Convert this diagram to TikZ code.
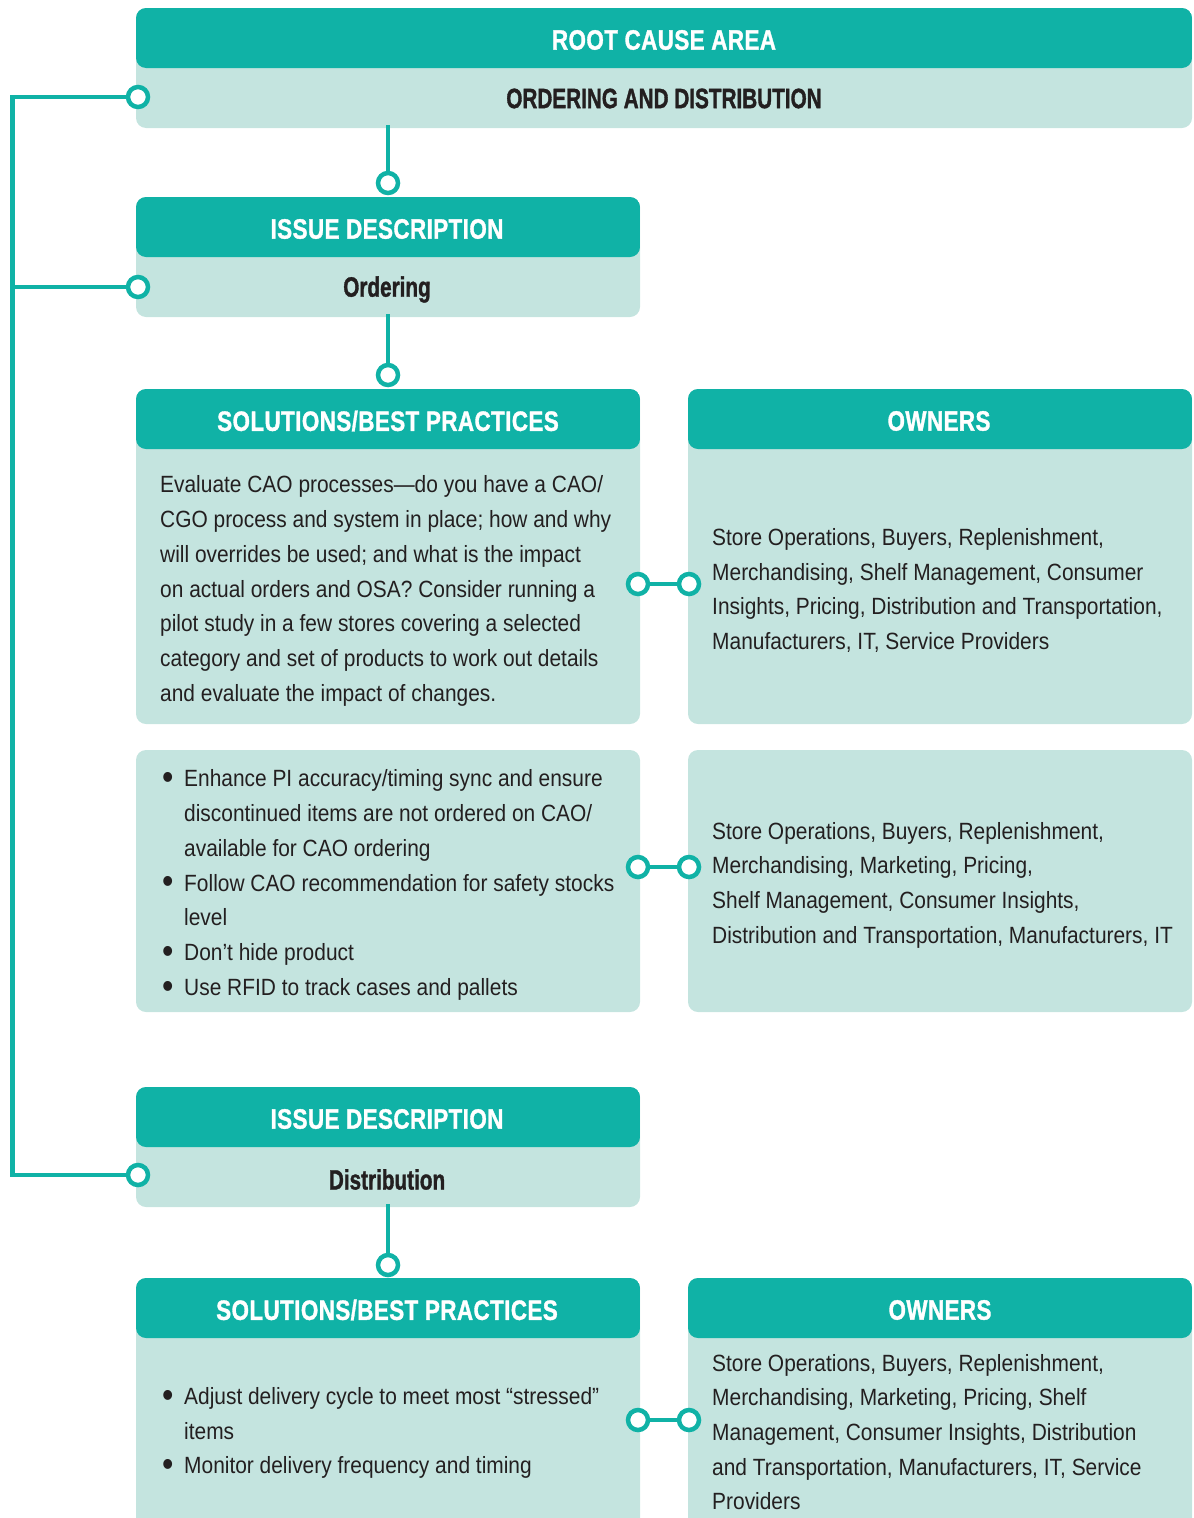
\documentclass[tikz,border=0pt]{standalone}
\usepackage{fontspec}
\setmainfont{Liberation Sans}
\newfontfamily\hdfont[FakeStretch=0.80,FakeBold=1.2,LetterSpace=1.5]{Liberation Sans}
\newfontfamily\lbfont[FakeStretch=0.74,FakeBold=1.2]{Liberation Sans}
\newfontfamily\bdfont[FakeStretch=0.89]{Liberation Sans}
\definecolor{tealdark}{HTML}{10B2A6}
\definecolor{teallight}{HTML}{C4E4DF}
\definecolor{inkdark}{HTML}{231F20}
\newcommand{\bl}{\makebox[22pt][l]{\raisebox{-0.12em}{\scalebox{1.55}{•}}}}
\newcommand{\ind}{\hspace*{22pt}}
\tikzset{
  x=1pt, y=-1pt,
  panel/.style={fill=teallight, rounded corners=10pt, inner sep=0pt, draw=none},
  headed/.style={panel, path picture={\fill[tealdark] (path picture bounding box.north west) rectangle ([yshift=-60pt]path picture bounding box.north east);}},
  hdtext/.style={text=white, font=\hdfont\bfseries\fontsize{28}{30}\selectfont, inner sep=0pt},
  lbtext/.style={text=inkdark, font=\lbfont\bfseries\fontsize{28}{30}\selectfont, inner sep=0pt},
  bdtext/.style={text=inkdark, font=\bdfont\fontsize{23.5}{34.7}\selectfont, align=left, inner sep=0pt, anchor=west},
  link/.style={draw=tealdark, line width=4.5pt},
  knob/.style={circle, draw=tealdark, line width=4.5pt, fill=white, minimum size=20pt, inner sep=0pt},
}
\begin{document}
\begin{tikzpicture}
\useasboundingbox (0,0) rectangle (1194,1518);
% boxes
\node[headed, minimum width=1056pt, minimum height=120pt] (root) at (664,68) {};
\node[headed, minimum width=504pt, minimum height=120pt] (iss1) at (388,257) {};
\node[headed, minimum width=504pt, minimum height=335pt] (sol1) at (388,556.5) {};
\node[headed, minimum width=504pt, minimum height=335pt] (own1) at (940,556.5) {};
\node[panel, minimum width=504pt, minimum height=262pt] (solb) at (388,881) {};
\node[panel, minimum width=504pt, minimum height=262pt] (ownb) at (940,881) {};
\node[headed, minimum width=504pt, minimum height=120pt] (iss2) at (388,1147) {};
\node[headed, minimum width=504pt, minimum height=267pt] (sol2) at (388,1411.5) {};
\node[headed, minimum width=504pt, minimum height=267pt] (own2) at (940,1411.5) {};
% header texts
\node[hdtext] (t1) at (664,40) {ROOT CAUSE AREA};
\node[lbtext] (t2) at (664,98.5) {ORDERING AND DISTRIBUTION};
\node[hdtext] (t3) at (387,229) {ISSUE DESCRIPTION};
\node[lbtext] (t4) at (387,289.5) {Ordering};
\node[hdtext] (t5) at (388,421) {SOLUTIONS/BEST PRACTICES};
\node[hdtext] (t6) at (939,421) {OWNERS};
\node[hdtext] (t7) at (387,1119) {ISSUE DESCRIPTION};
\node[lbtext] (t8) at (387,1179.5) {Distribution};
\node[hdtext] (t9) at (387,1310) {SOLUTIONS/BEST PRACTICES};
\node[hdtext] (t10) at (940,1310) {OWNERS};
% body texts
\node[bdtext] (b1) at (160,591) {Evaluate CAO processes—do you have a CAO/\\CGO process and system in place; how and why\\will overrides be used; and what is the impact\\on actual orders and OSA? Consider running a\\pilot study in a few stores covering a selected\\category and set of products to work out details\\and evaluate the impact of changes.};
\node[bdtext] (b2) at (712,590.5) {Store Operations, Buyers, Replenishment,\\Merchandising, Shelf Management, Consumer\\Insights, Pricing, Distribution and Transportation,\\Manufacturers, IT, Service Providers};
\node[bdtext] (b3) at (162,885) {\bl Enhance PI accuracy/timing sync and ensure\\\ind discontinued items are not ordered on CAO/\\\ind available for CAO ordering\\\bl Follow CAO recommendation for safety stocks\\\ind level\\\bl Don’t hide product\\\bl Use RFID to track cases and pallets};
\node[bdtext] (b4) at (712,885) {Store Operations, Buyers, Replenishment,\\Merchandising, Marketing, Pricing,\\Shelf Management, Consumer Insights,\\Distribution and Transportation, Manufacturers, IT};
\node[bdtext] (b5) at (162,1433) {\bl Adjust delivery cycle to meet most “stressed”\\\ind items\\\bl Monitor delivery frequency and timing};
\node[bdtext] (b6) at (712,1432) {Store Operations, Buyers, Replenishment,\\Merchandising, Marketing, Pricing, Shelf\\Management, Consumer Insights, Distribution\\and Transportation, Manufacturers, IT, Service\\Providers};
% knobs
\node[knob] (kl1) at (138,97) {};
\node[knob] (kl2) at (138,287) {};
\node[knob] (kl3) at (138,1175) {};
\node[knob] (kv1) at (388,183) {};
\node[knob] (kv2) at (388,375) {};
\node[knob] (kv3) at (388,1265) {};
\node[knob] (ka1) at (638,584) {};
\node[knob] (kb1) at (689,584) {};
\node[knob] (ka2) at (638,867) {};
\node[knob] (kb2) at (689,867) {};
\node[knob] (ka3) at (638,1420) {};
\node[knob] (kb3) at (689,1420) {};
\coordinate (spinetop) at (12.5,97);
\coordinate (spinebot) at (12.5,1175);
% connectors
\draw[link] (kl1) -- (spinetop) -- (spinebot) -- (kl3);
\draw[link] (kl2) -- (kl2 -| spinetop);
\draw[link] ([yshift=3pt]root.south -| kv1) -- (kv1);
\draw[link] ([yshift=3pt]iss1.south -| kv2) -- (kv2);
\draw[link] ([yshift=3pt]iss2.south -| kv3) -- (kv3);
\draw[link] (ka1) -- (kb1);
\draw[link] (ka2) -- (kb2);
\draw[link] (ka3) -- (kb3);
\end{tikzpicture}
\end{document}
